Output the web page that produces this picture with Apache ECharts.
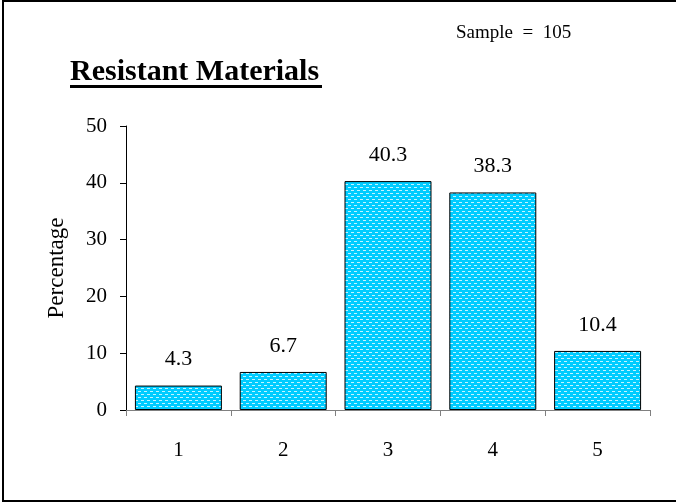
<!DOCTYPE html>
<html><head><meta charset="utf-8">
<script src="https://cdn.jsdelivr.net/npm/echarts@6/dist/echarts.min.js"></script>
<style>html,body{margin:0;padding:0;background:#fff}#c{width:676px;height:503px}</style>
</head><body><div id="c"></div>
<script>
const categories = ['1','2','3','4','5'];
const values = [4.3, 6.7, 40.3, 38.3, 10.4];
const yTicks = [0, 10, 20, 30, 40, 50];

const tile = document.createElement('canvas');
tile.width = 6; tile.height = 6;
const g = tile.getContext('2d');
g.fillStyle = '#00CCFF'; g.fillRect(0,0,6,6);
g.fillStyle = '#C4F4FF';
g.fillRect(0,1,3,1); g.fillRect(3,4,3,1);

const chart = echarts.init(document.getElementById('c'), null, {renderer:'canvas'});
const F = '"Liberation Serif", "Times New Roman", serif';
chart.setOption({
  animation:false,
  backgroundColor:'#fff',
  grid:{left:126, right:26, top:126, bottom:93},
  xAxis:{type:'category', data:categories,
    axisLine:{lineStyle:{color:'#808080', width:1}},
    axisTick:{show:true, length:6, lineStyle:{color:'#808080'}},
    axisLabel:{color:'#000', fontFamily:F, fontSize:21, margin:30}},
  yAxis:{type:'value', min:yTicks[0], max:yTicks[yTicks.length-1], interval:10,
    name:'Percentage', nameLocation:'middle', nameGap:58, nameRotate:90,
    nameTextStyle:{color:'#000', fontFamily:F, fontSize:23},
    axisLine:{show:true, lineStyle:{color:'#000'}},
    axisTick:{show:true, length:6, lineStyle:{color:'#000'}},
    splitLine:{show:false},
    axisLabel:{color:'#000', fontFamily:F, fontSize:21, margin:19}},
  series:[{type:'bar', data:values, barCategoryGap:'17%',
    itemStyle:{color:{image:tile, repeat:'repeat'}, borderColor:'#000', borderWidth:1},
    label:{show:true, position:'top', distance:15, color:'#000', fontFamily:F, fontSize:22,
      formatter:p=>p.value.toFixed(1)}}],
  graphic:[
    {type:'text', x:70, y:72, style:{text:'Resistant Materials', font:'bold 30px '+F, fill:'#000', verticalAlign:'middle'}},
    {type:'rect', shape:{x:70, y:85, width:252, height:3}, style:{fill:'#000'}},
    {type:'text', x:456, y:33, style:{text:'Sample  =  105', font:'19px '+F, fill:'#000', verticalAlign:'middle'}},
    {type:'rect', shape:{x:2, y:0, width:674, height:2}, style:{fill:'#000'}},
    {type:'rect', shape:{x:2, y:0, width:2, height:502}, style:{fill:'#000'}},
    {type:'rect', shape:{x:2, y:500, width:674, height:2}, style:{fill:'#000'}}
  ]
});
</script></body></html>
